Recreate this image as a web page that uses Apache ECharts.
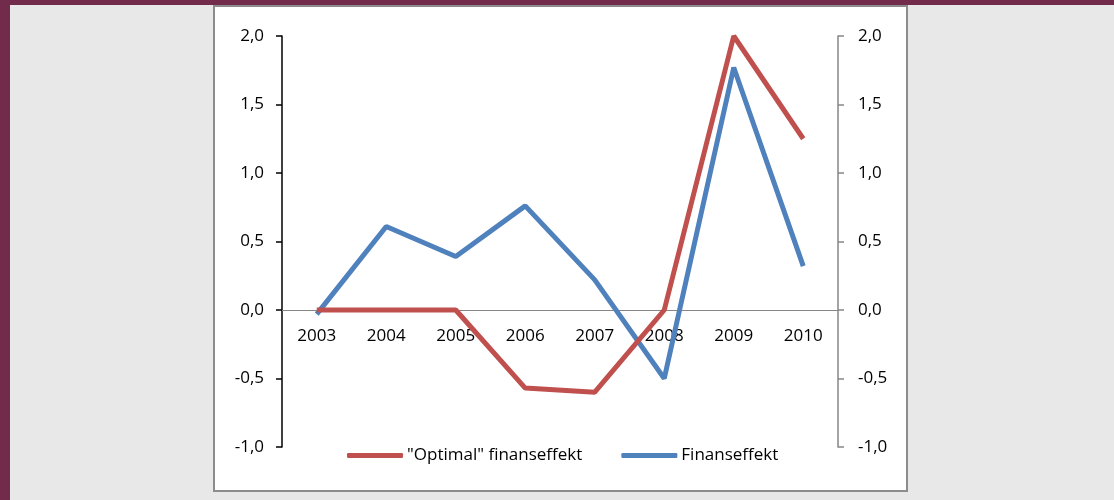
<!DOCTYPE html>
<html>
<head>
<meta charset="utf-8">
<script src="https://cdn.jsdelivr.net/npm/echarts@6/dist/echarts.min.js"></script>
<style>
html,body{margin:0;padding:0;background:#e8e8e8;}
#c{width:1114px;height:500px;}
</style>
</head>
<body>
<div id="c"></div>
<script>
const categories = ['2003','2004','2005','2006','2007','2008','2009','2010'];
const optimalName = '"Optimal" finanseffekt';
const finansName = 'Finanseffekt';
const optimalValues = [0, 0, 0, -0.57, -0.60, 0.0, 2.0, 1.25];
const finansValues = [-0.03, 0.61, 0.39, 0.76, 0.22, -0.50, 1.77, 0.32];
const yMin = -1, yMax = 2, yStep = 0.5;

const fmt = v => v.toFixed(1).replace('.', ',');
const font = '"Open Sans", "Liberation Sans", sans-serif';

const gridTop = 36, gridBottom = 53, plotH = 500 - gridTop - gridBottom;
// place category axis at value 0
const zeroOffset = -plotH * (0 - yMin) / (yMax - yMin);

const chart = echarts.init(document.getElementById('c'), null, {renderer: 'canvas'});
chart.setOption({
  backgroundColor: '#e8e8e8',
  animation: false,
  graphic: [
    {type: 'rect', left: 0, top: 0, shape: {width: 1114, height: 5}, style: {fill: '#722b4a'}, z: -10},
    {type: 'rect', left: 0, top: 0, shape: {width: 10, height: 500}, style: {fill: '#722b4a'}, z: -10},
    {type: 'rect', left: 213, top: 5, shape: {width: 693, height: 485}, style: {fill: '#ffffff', stroke: '#8c8c8c', lineWidth: 2}, z: -10}
  ],
  grid: {left: 282, right: 276, top: gridTop, bottom: gridBottom, containLabel: false},
  legend: {
    left: 347, top: 447, padding: 0,
    itemWidth: 56, itemHeight: 5, itemGap: 39,
    icon: 'roundRect',
    textStyle: {fontFamily: font, fontSize: 17, color: '#000', padding: [0,0,0,-1]},
    data: [optimalName, finansName]
  },
  xAxis: {
    type: 'category',
    data: categories,
    boundaryGap: true,
    position: 'bottom',
    offset: zeroOffset,
    axisLine: {onZero: false, lineStyle: {color: '#868686', width: 1}},
    axisTick: {show: false},
    axisLabel: {fontFamily: font, fontSize: 17, color: '#000', margin: 18},
    splitLine: {show: false}
  },
  yAxis: [
    {
      type: 'value', min: yMin, max: yMax, interval: yStep, position: 'left',
      axisLine: {show: true, onZero: false, lineStyle: {color: '#000', width: 1.5}},
      axisTick: {show: true, length: 6, lineStyle: {color: '#000', width: 1.5}},
      axisLabel: {fontFamily: font, fontSize: 17, color: '#000', margin: 18, formatter: fmt},
      splitLine: {show: false}
    },
    {
      type: 'value', min: yMin, max: yMax, interval: yStep, position: 'right',
      axisLine: {show: true, onZero: false, lineStyle: {color: '#868686', width: 1.5}},
      axisTick: {show: true, length: 6, lineStyle: {color: '#868686', width: 1.5}},
      axisLabel: {fontFamily: font, fontSize: 17, color: '#000', margin: 20, formatter: fmt},
      splitLine: {show: false}
    }
  ],
  series: [
    {
      name: optimalName, type: 'line', data: optimalValues, yAxisIndex: 0,
      symbol: 'none', lineStyle: {color: '#c0504d', width: 5}, itemStyle: {color: '#c0504d'}, z: 3
    },
    {
      name: finansName, type: 'line', data: finansValues, yAxisIndex: 0,
      symbol: 'none', lineStyle: {color: '#4f81bd', width: 5}, itemStyle: {color: '#4f81bd'}, z: 2
    }
  ]
});
</script>
</body>
</html>
